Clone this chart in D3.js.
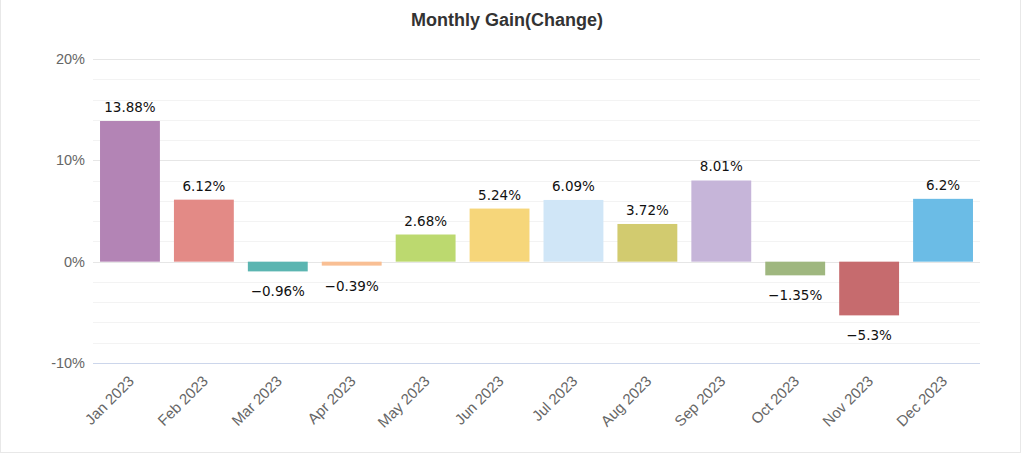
<!DOCTYPE html>
<html><head><meta charset="utf-8">
<script src="https://cdn.jsdelivr.net/npm/d3@7"></script>
<style>
body{margin:0;background:#fff;}
svg{display:block;}
</style></head>
<body>
<svg id="chart" width="1024" height="456"></svg>
<script>
const months = ["Jan 2023","Feb 2023","Mar 2023","Apr 2023","May 2023","Jun 2023","Jul 2023","Aug 2023","Sep 2023","Oct 2023","Nov 2023","Dec 2023"];
const gains = [13.88, 6.12, -0.96, -0.39, 2.68, 5.24, 6.09, 3.72, 8.01, -1.35, -5.3, 6.2];
const labels = ["13.88%","6.12%","\u22120.96%","\u22120.39%","2.68%","5.24%","6.09%","3.72%","8.01%","\u22121.35%","\u22125.3%","6.2%"];
const colors = ["#b384b5","#e38a86","#5bb5b1","#f9bf94","#bcd96f","#f6d67a","#d0e6f7","#d2cb6f","#c6b5d9","#9fb77f","#c66b6e","#6bbce6"];
const yTicks = [-10, 0, 10, 20];
const yMinor = [-8,-6,-4,-2,2,4,6,8,12,14,16,18];

const svg = d3.select("#chart");
const m = {left:93, right:980, top:59, bottom:363};

// frame
svg.append("rect").attr("x",0.5).attr("y",-2).attr("width",1020).attr("height",454.5)
  .attr("fill","none").attr("stroke","#e8e8e8");

const x = d3.scaleBand().domain(months).range([m.left, m.right]).paddingInner(0.19).paddingOuter(0.095);
const y = d3.scaleLinear().domain([-10, 20]).range([m.bottom, m.top]);

// minor grid
svg.append("g").selectAll("line").data(yMinor).join("line")
  .attr("x1",m.left).attr("x2",m.right)
  .attr("y1",d=>Math.round(y(d))+0.5).attr("y2",d=>Math.round(y(d))+0.5)
  .attr("stroke","#f3f3f3").attr("stroke-width",1);
// major grid
svg.append("g").selectAll("line").data(yTicks.filter(d=>d!==-10)).join("line")
  .attr("x1",m.left).attr("x2",m.right)
  .attr("y1",d=>Math.round(y(d))+0.5).attr("y2",d=>Math.round(y(d))+0.5)
  .attr("stroke","#e6e6e6").attr("stroke-width",1);

// y axis labels
const yAxis = d3.axisLeft(y).tickValues(yTicks).tickSize(0).tickPadding(0).tickFormat(d=>d+"%");
const gy = svg.append("g").attr("transform",`translate(${m.left-8},0)`).call(yAxis);
gy.select(".domain").remove();
gy.selectAll("text").attr("fill","#666").style("font-family","Liberation Sans, Arial, sans-serif").style("font-size","14.5px");

// bars
svg.append("g").selectAll("rect").data(gains).join("rect")
  .attr("x",(d,i)=>x(months[i]))
  .attr("width",x.bandwidth())
  .attr("y",d=>y(Math.max(0,d)))
  .attr("height",d=>Math.abs(y(d)-y(0)))
  .attr("fill",(d,i)=>colors[i]);

// x axis line
svg.append("line").attr("x1",m.left).attr("x2",m.right)
  .attr("y1",m.bottom+0.5).attr("y2",m.bottom+0.5).attr("stroke","#ccd6eb");

// x axis labels
const xAxis = d3.axisBottom(x).tickSize(0).tickPadding(0);
const gx = svg.append("g").attr("transform",`translate(0,${m.bottom})`).call(xAxis);
gx.select(".domain").remove();
gx.selectAll("text")
  .attr("fill","#666").style("font-family","Liberation Sans, Arial, sans-serif").style("font-size","15px")
  .attr("text-anchor","end").attr("dy",null).attr("y",0)
  .attr("transform","translate(5,19) rotate(-45)");

// data labels
svg.append("g").selectAll("text").data(gains).join("text")
  .attr("x",(d,i)=>x(months[i])+x.bandwidth()/2)
  .attr("y",d=> d>=0 ? y(d)-9 : y(d)+25)
  .attr("text-anchor","middle")
  .attr("fill","#111")
  .style("font-family","DejaVu Sans, sans-serif")
  .style("font-size","13.5px")
  .text((d,i)=>labels[i]);

// title
svg.append("text").attr("x",507).attr("y",26).attr("text-anchor","middle")
  .attr("fill","#333").style("font-family","Liberation Sans, Arial, sans-serif")
  .style("font-size","18px").style("font-weight","bold").text("Monthly Gain(Change)");
</script>
</body></html>
